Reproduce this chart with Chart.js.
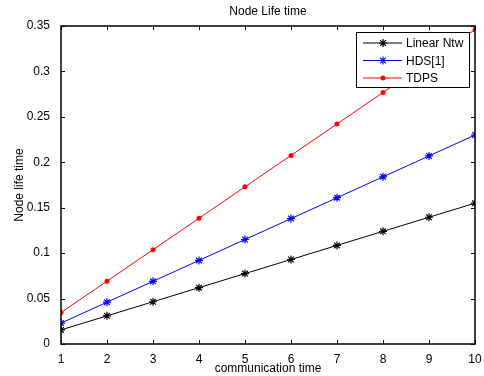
<!DOCTYPE html>
<html>
<head>
<meta charset="utf-8">
<script src="https://cdn.jsdelivr.net/npm/chart.js@4"></script>
<style>
  html,body{margin:0;padding:0;background:#fff;}
  canvas{display:block;}
</style>
</head>
<body>
<canvas id="chart" width="484" height="376"></canvas>
<script>
/* ---------- data ---------- */
const commTime = [1, 2, 3, 4, 5, 6, 7, 8, 9, 10];
const linearNtw = [0.0155, 0.031, 0.0465, 0.062, 0.0775, 0.093, 0.1085, 0.124, 0.1395, 0.155];
const hds1 = [0.023, 0.046, 0.069, 0.092, 0.115, 0.138, 0.161, 0.184, 0.207, 0.230];
const tdps = [0.0346, 0.0692, 0.1038, 0.1384, 0.173, 0.2076, 0.2422, 0.2768, 0.3114, 0.346];
const yTicks = [0, 0.05, 0.1, 0.15, 0.2, 0.25, 0.3, 0.35];

const FONT = "'Liberation Sans', Arial, sans-serif";

const pts = arr => arr.map((v, i) => ({x: commTime[i], y: v}));

/* box, inward ticks, title, axis labels and legend, MATLAB style */
const matlabAxes = {
    id: 'matlabAxes',
    afterDatasetsDraw(chart) {
        const {ctx, chartArea: a, scales: {x, y}} = chart;
        ctx.save();
        ctx.strokeStyle = '#000';
        ctx.lineWidth = 1;

        // inward ticks on all four sides
        ctx.beginPath();
        x.ticks.forEach(t => {
            const px = Math.round(x.getPixelForValue(t.value)) + 0.5;
            ctx.moveTo(px, a.bottom); ctx.lineTo(px, a.bottom - 4);
            ctx.moveTo(px, a.top); ctx.lineTo(px, a.top + 4);
        });
        y.ticks.forEach(t => {
            const py = Math.round(y.getPixelForValue(t.value)) + 0.5;
            ctx.moveTo(a.left, py); ctx.lineTo(a.left + 4, py);
            ctx.moveTo(a.right, py); ctx.lineTo(a.right - 4, py);
        });
        ctx.stroke();

        // axes box
        ctx.lineWidth = 1.5;
        ctx.strokeRect(a.left, a.top, a.right - a.left, a.bottom - a.top);

        // title and axis labels
        ctx.fillStyle = '#000';
        ctx.font = '12px ' + FONT;
        ctx.textAlign = 'center';
        ctx.textBaseline = 'middle';
        ctx.fillText('Node Life time', (a.left + a.right) / 2, 12);
        ctx.fillText('communication time', (a.left + a.right) / 2, 369);
        ctx.save();
        ctx.translate(20, (a.top + a.bottom) / 2);
        ctx.rotate(-Math.PI / 2);
        ctx.fillText('Node life time', 0, 0);
        ctx.restore();

        // legend
        const lx = 356, ly = 32, lw = 113, lh = 55;
        ctx.fillStyle = '#fff';
        ctx.fillRect(lx, ly, lw, lh);
        ctx.lineWidth = 1;
        ctx.strokeStyle = '#000';
        ctx.strokeRect(lx + 0.5, ly + 0.5, lw, lh);
        chart.data.datasets.forEach((ds, i) => {
            const ry = ly + 11 + i * 17.5;
            ctx.strokeStyle = ds.borderColor;
            ctx.lineWidth = 1;
            ctx.beginPath();
            ctx.moveTo(lx + 7, ry); ctx.lineTo(lx + 46, ry);
            ctx.stroke();
            if (ds.pointStyle === 'circle') {
                ctx.fillStyle = ds.borderColor;
                ctx.beginPath();
                ctx.arc(lx + 27, ry, ds.pointRadius, 0, Math.PI * 2);
                ctx.fill();
            } else {
                ctx.lineWidth = ds.pointBorderWidth;
                Chart.helpers.drawPoint(ctx, {
                    pointStyle: ds.pointStyle, radius: ds.pointRadius,
                    borderWidth: ds.pointBorderWidth, rotation: 0
                }, lx + 27, ry);
            }
            ctx.fillStyle = '#000';
            ctx.textAlign = 'left';
            ctx.font = '12px ' + FONT;
            ctx.fillText(ds.label, lx + 50, ry + 1);
        });
        ctx.restore();
    }
};

new Chart(document.getElementById('chart'), {
    type: 'line',
    data: {
        datasets: [
            {label: 'Linear Ntw', data: pts(linearNtw), borderColor: '#000', backgroundColor: '#000',
             pointStyle: 'star', pointRadius: 4, pointBorderWidth: 1.2},
            {label: 'HDS[1]', data: pts(hds1), borderColor: '#0000ff', backgroundColor: '#0000ff',
             pointStyle: 'star', pointRadius: 4, pointBorderWidth: 1.2},
            {label: 'TDPS', data: pts(tdps), borderColor: '#ff0000', backgroundColor: '#ff0000',
             pointStyle: 'circle', pointRadius: 2.5, pointBorderWidth: 0}
        ]
    },
    options: {
        responsive: false,
        animation: false,
        elements: {line: {borderWidth: 1, tension: 0}},
        layout: {padding: {top: 26, right: 9, left: 0, bottom: 0}},
        plugins: {legend: {display: false}, title: {display: false}, tooltip: {enabled: false}},
        scales: {
            x: {
                type: 'linear', min: 1, max: 10,
                grid: {display: false}, border: {display: false},
                ticks: {stepSize: 1, color: '#000', font: {family: FONT, size: 12}, padding: 0},
                afterFit: s => { s.height = 32; }
            },
            y: {
                min: 0, max: 0.35,
                grid: {display: false}, border: {display: false},
                afterBuildTicks: s => { s.ticks = yTicks.map(v => ({value: v})); },
                ticks: {color: '#000', font: {family: FONT, size: 12}, padding: 3,
                        callback: v => String(+v.toFixed(2))},
                afterFit: s => { s.width = 61; }
            }
        }
    },
    plugins: [matlabAxes]
});
</script>
</body>
</html>
